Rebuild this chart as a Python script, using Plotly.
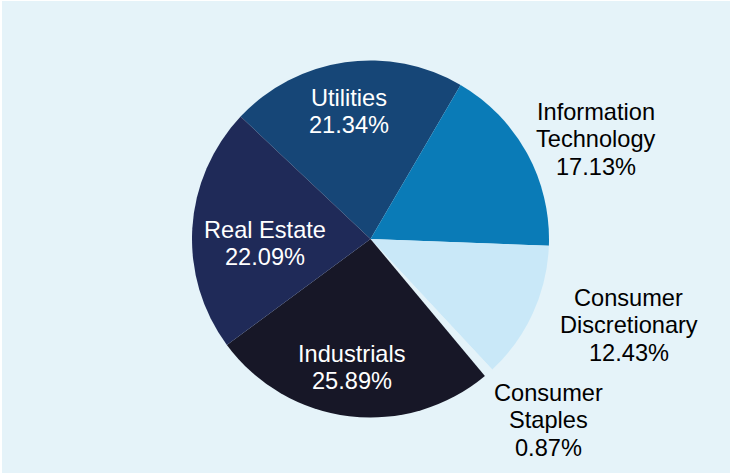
import plotly.graph_objects as go

sectors = ["Utilities", "Information Technology", "Consumer Discretionary",
           "Consumer Staples", "Industrials", "Real Estate"]
label_lines = [["Utilities"], ["Information", "Technology"], ["Consumer", "Discretionary"],
               ["Consumer", "Staples"], ["Industrials"], ["Real Estate"]]
weights = [21.34, 17.13, 12.43, 0.87, 25.89, 22.09]

# styling
colors = ["#164677", "#0a7bb7", "#c9e8f8", "#e4f3f9", "#171727", "#1f2a58"]
text_colors = ["white", "black", "black", "black", "white", "white"]
# label anchor in pixels: (centre x, first baseline y)
label_px = [(349, 105.7), (595.5, 120.0), (628.7, 305.7),
            (548.0, 400.7), (351.5, 361.7), (265.0, 237.7)]

W, H = 730, 473
FS = 23.6
LINE = 27.5
FONT = "Liberation Sans, Arial, sans-serif"

fig = go.Figure(go.Pie(
    labels=sectors,
    values=weights,
    textinfo="none",
    marker=dict(colors=colors, line=dict(width=0)),
    sort=False,
    direction="clockwise",
    rotation=-46.7,
    showlegend=False,
    hoverinfo="label+percent",
    domain=dict(x=[192/W, 549/W], y=[1-417.5/H, 1-60.5/H]),
))

annotations = []
for lines, w, (cx, by), col in zip(label_lines, weights, label_px, text_colors):
    all_lines = lines + [f"{w:.2f}%"]
    for i, t in enumerate(all_lines):
        base = by + i * LINE
        yc = base - 0.3465 * FS
        annotations.append(dict(
            text=t, x=cx / W, y=1 - yc / H, xref="paper", yref="paper",
            xanchor="center", yanchor="middle", showarrow=False,
            font=dict(family=FONT, size=FS, color=col),
        ))

fig.update_layout(
    width=W, height=H,
    margin=dict(l=0, r=0, t=0, b=0),
    paper_bgcolor="white",
    plot_bgcolor="white",
    annotations=annotations,
    shapes=[dict(type="rect", xref="paper", yref="paper", x0=2/W, x1=1, y0=0, y1=1-1/H,
                 fillcolor="#e5f3f9", line=dict(width=0), layer="below")],
)

fig.write_html("out.html", config={"displayModeBar": False},
               post_script="document.body.style.margin='0';document.body.style.overflow='hidden';")
